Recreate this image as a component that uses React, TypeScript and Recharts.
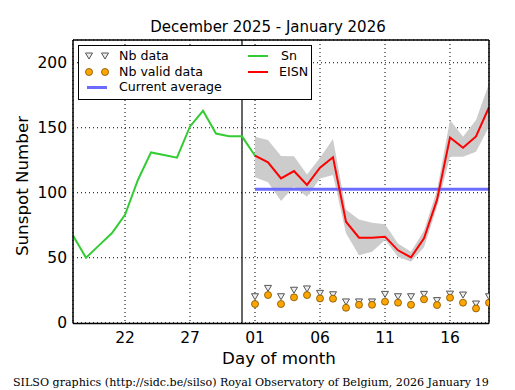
import React from 'react';
import { ComposedChart, Line, Area, XAxis, YAxis, CartesianGrid, ReferenceLine } from 'recharts';

// x = days since 2025-12-18 (0 .. 32 -> Jan 19)
const DAY_COUNT = 33;
const X_TICKS = [4, 9, 14, 19, 24, 29];
const X_TICK_LABELS = ['22', '27', '01', '06', '11', '16'];
const Y_TICKS = [0, 50, 100, 150, 200];
const X_MINOR = Array.from({ length: DAY_COUNT }, (_, i) => i);
const Y_MINOR = Array.from({ length: 22 }, (_, i) => i * 10);
const SPLIT_DAY = 13;
const EISN_START = 14;

// daily Sn, Dec 18 .. Jan 01
const SN = [67, 50, 59.5, 69, 83, 110, 131, 129, 127, 151, 163, 145.5, 143.5, 143.4, 128.5];
// estimated ISN, Jan 01 .. Jan 19
const EISN = [128.5, 123.4, 111, 116.7, 106, 119.3, 127.3, 77.7, 65.4, 65.4, 66.2, 55.7, 50.3, 65, 94.5, 142.5, 134.6, 143.3, 165.8];
const EISN_LO = [112, 108, 93.6, 104.6, 97, 111, 113.6, 68.8, 52, 54.6, 63.6, 50.8, 47, 58, 89, 127.7, 127.7, 131.5, 150.7];
const EISN_HI = [143, 140.5, 128.2, 128, 114, 127, 141.3, 87, 79.5, 77, 75.7, 61, 54.6, 71, 102, 156, 143, 156, 184];
const CURRENT_AVG = 102.7;
const NB_DATA = [20, 26.4, 20, 25, 26, 22.6, 21.5, 16, 16, 16, 21.8, 20, 20, 21.8, 17, 22, 21.3, 14.4, 20];
const NB_VALID = [14.4, 21.3, 14.4, 19.5, 21.3, 18.7, 18.5, 11.5, 13.8, 13.8, 16.2, 15.4, 13.8, 18, 13.6, 19.2, 15.4, 11, 15.4];

const FONT = '"DejaVu Sans", sans-serif';
const GREEN = '#33cc33';
const RED = '#ff0000';
const BLUE = '#6b6bff';
const BAND = '#cccccc';
const ORANGE = '#ffa500';

const data = X_MINOR.map((d) => {
  const j = d - EISN_START;
  const on = j >= 0;
  return {
    x: d,
    sn: d <= EISN_START ? SN[d] : undefined,
    eisn: on ? EISN[j] : undefined,
    band: on ? [EISN_LO[j], EISN_HI[j]] : undefined,
    avg: on ? CURRENT_AVG : undefined,
    nb: on ? NB_DATA[j] : undefined,
    nbValid: on ? NB_VALID[j] : undefined,
  };
});

function TriDot(props: any) {
  const { cx, cy, value } = props;
  if (value == null || cx == null || cy == null) return <g />;
  return (
    <path d={`M${cx - 3.5},${cy - 3} L${cx + 3.5},${cy - 3} L${cx},${cy + 3} Z`} fill="#eeeeee" stroke="#555" strokeWidth={1} />
  );
}

function CircleDot(props: any) {
  const { cx, cy, value } = props;
  if (value == null || cx == null || cy == null) return <g />;
  return <circle cx={cx} cy={cy} r={3.5} fill={ORANGE} stroke="#7a5200" strokeWidth={0.8} />;
}

const TICK = { fontSize: 15.5, fill: '#000', fontFamily: FONT };
const X_DOMAIN: [number, number] = [0, 32];
const Y_DOMAIN: [number, number] = [-0.6, 217.5];

function LegendBox() {
  const row = (top: number): React.CSSProperties => ({ position: 'absolute', top, fontSize: 12.6, lineHeight: '16px', fontFamily: FONT });
  return (
    <div style={{ position: 'absolute', left: 78, top: 45, width: 232, height: 53, border: '1px solid #000', background: '#fff' }}>
      <svg width={232} height={53} style={{ position: 'absolute', left: 0, top: 0 }}>
        <TriDot cx={10} cy={10} value={1} />
        <TriDot cx={26} cy={10} value={1} />
        <CircleDot cx={10} cy={26} value={1} />
        <CircleDot cx={26} cy={26} value={1} />
        <line x1={8} x2={28} y1={41.5} y2={41.5} stroke={BLUE} strokeWidth={3} />
        <line x1={169} x2={189} y1={10} y2={10} stroke={GREEN} strokeWidth={2} />
        <line x1={169} x2={189} y1={26} y2={26} stroke={RED} strokeWidth={2} />
      </svg>
      <div style={{ ...row(2), left: 40 }}>Nb data</div>
      <div style={{ ...row(18), left: 40 }}>Nb valid data</div>
      <div style={{ ...row(33), left: 40 }}>Current average</div>
      <div style={{ ...row(2), left: 202 }}>Sn</div>
      <div style={{ ...row(18), left: 200 }}>EISN</div>
    </div>
  );
}

export default function App() {
  return (
    <div style={{ position: 'absolute', left: 0, top: 0, width: 515, height: 390, background: '#fff', fontFamily: FONT }}>
      <ComposedChart width={515} height={390} data={data} margin={{ top: 40, right: 26, bottom: 36.5, left: 0 }}>
        <CartesianGrid stroke="#000" strokeDasharray="1 3" strokeWidth={1} />
        <XAxis
          dataKey="x" type="number" domain={X_DOMAIN} allowDataOverflow ticks={X_TICKS}
          tickFormatter={(v: number) => X_TICK_LABELS[X_TICKS.indexOf(v)] ?? ''}
          tick={TICK} tickLine={false} tickSize={0} tickMargin={8} height={30}
          axisLine={{ stroke: '#000', strokeWidth: 1.5 }}
        />
        <XAxis xAxisId="bMaj" dataKey="x" type="number" domain={X_DOMAIN} allowDataOverflow ticks={X_TICKS} mirror tick={false} tickSize={7} axisLine={false} tickLine={{ stroke: '#000' }} />
        <XAxis xAxisId="bMin" dataKey="x" type="number" domain={X_DOMAIN} allowDataOverflow ticks={X_MINOR} mirror tick={false} tickSize={3.5} axisLine={false} tickLine={{ stroke: '#000' }} />
        <XAxis xAxisId="tMaj" orientation="top" dataKey="x" type="number" domain={X_DOMAIN} allowDataOverflow ticks={X_TICKS} mirror tick={false} tickSize={7} axisLine={{ stroke: '#000', strokeWidth: 1.5 }} tickLine={{ stroke: '#000' }} />
        <XAxis xAxisId="tMin" orientation="top" dataKey="x" type="number" domain={X_DOMAIN} allowDataOverflow ticks={X_MINOR} mirror tick={false} tickSize={3.5} axisLine={false} tickLine={{ stroke: '#000' }} />
        <YAxis
          type="number" domain={Y_DOMAIN} allowDataOverflow ticks={Y_TICKS} width={73}
          tick={TICK} tickLine={false} tickSize={0} tickMargin={6}
          axisLine={{ stroke: '#000', strokeWidth: 1.5 }}
        />
        <YAxis yAxisId="lMaj" type="number" domain={Y_DOMAIN} allowDataOverflow ticks={Y_TICKS} mirror tick={false} tickSize={7} axisLine={false} tickLine={{ stroke: '#000' }} />
        <YAxis yAxisId="lMin" type="number" domain={Y_DOMAIN} allowDataOverflow ticks={Y_MINOR} mirror tick={false} tickSize={3.5} axisLine={false} tickLine={{ stroke: '#000' }} />
        <YAxis yAxisId="rMaj" orientation="right" type="number" domain={Y_DOMAIN} allowDataOverflow ticks={Y_TICKS} mirror tick={false} tickSize={7} axisLine={{ stroke: '#000', strokeWidth: 1.5 }} tickLine={{ stroke: '#000' }} />
        <YAxis yAxisId="rMin" orientation="right" type="number" domain={Y_DOMAIN} allowDataOverflow ticks={Y_MINOR} mirror tick={false} tickSize={3.5} axisLine={false} tickLine={{ stroke: '#000' }} />

        <Area dataKey="band" stroke="none" fill={BAND} fillOpacity={1} isAnimationActive={false} connectNulls={false} />
        <ReferenceLine x={SPLIT_DAY} stroke="#000" strokeWidth={1.2} />
        <Line dataKey="avg" stroke={BLUE} strokeWidth={3} dot={false} isAnimationActive={false} />
        <Line dataKey="sn" stroke={GREEN} strokeWidth={2} dot={false} isAnimationActive={false} />
        <Line dataKey="eisn" stroke={RED} strokeWidth={2} dot={false} isAnimationActive={false} />
        <Line dataKey="nb" stroke="none" dot={TriDot} activeDot={false} isAnimationActive={false} />
        <Line dataKey="nbValid" stroke="none" dot={CircleDot} activeDot={false} isAnimationActive={false} />
      </ComposedChart>

      <div style={{ position: 'absolute', left: 268, top: 27, transform: 'translate(-50%, -50%)', fontSize: 15, whiteSpace: 'nowrap' }}>
        December 2025 - January 2026
      </div>
      <div style={{ position: 'absolute', left: 22, top: 186, transform: 'translate(-50%, -50%) rotate(-90deg)', fontSize: 16.7, whiteSpace: 'nowrap' }}>
        Sunspot Number
      </div>
      <div style={{ position: 'absolute', left: 279, top: 358, transform: 'translate(-50%, -50%)', fontSize: 16.7, whiteSpace: 'nowrap' }}>
        Day of month
      </div>
      <div style={{ position: 'absolute', left: 13, top: 382, transform: 'translateY(-50%)', fontSize: 11.1, fontFamily: '"DejaVu Serif", serif', whiteSpace: 'nowrap' }}>
        SILSO graphics (http://sidc.be/silso) Royal Observatory of Belgium, 2026 January 19
      </div>
      <LegendBox />
    </div>
  );
}
